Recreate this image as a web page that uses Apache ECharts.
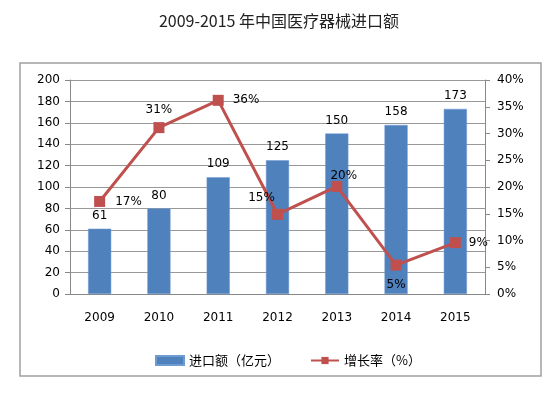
<!DOCTYPE html>
<html><head><meta charset="utf-8">
<script src="https://cdn.jsdelivr.net/npm/echarts@6/dist/echarts.min.js"></script>
<style>html,body{margin:0;padding:0;background:#fff}#c{width:558px;height:395px}</style>
</head><body><div id="c"></div>
<script>
const years = ['2009','2010','2011','2012','2013','2014','2015'];
const importValue = [61, 80, 109, 125, 150, 158, 173];
const growthRate = [17.3, 31.1, 36.2, 14.9, 20.1, 5.4, 9.6];
const growthLabels = ['17%','31%','36%','15%','20%','5%','9%'];
const leftTicks = [0, 20, 40, 60, 80, 100, 120, 140, 160, 180, 200];
const rightTicks = [0, 5, 10, 15, 20, 25, 30, 35, 40];
const labelPos = [
  {position:'right', distance:10},
  {position:'top', distance:6},
  {position:'right', distance:9},
  {position:'top', distance:5, offset:[-16,0]},
  {position:'top', distance:-1, offset:[7,0]},
  {position:'bottom', distance:8},
  {position:'right', distance:8}
];
const chart = echarts.init(document.getElementById('c'), null, {renderer:'canvas'});
const axisFont = {fontFamily:'DejaVu Sans', fontSize:12, color:'#000'};
chart.setOption({
  animation:false,
  backgroundColor:'#fff',
  title:{text:'2009-2015 年中国医疗器械进口额', left:'center', top:8,
    textStyle:{fontFamily:'Noto Sans CJK SC', fontSize:16, fontWeight:'normal', color:'#222'}},
  graphic:[{type:'rect', shape:{x:20, y:63, width:521, height:313},
    style:{fill:'none', stroke:'#a0a0a0', lineWidth:1.5}, z:-1}],
  grid:{left:70, right:73, top:80, bottom:101},
  legend:{left:150, top:349, itemWidth:28, itemHeight:9, itemGap:30,
    textStyle:{fontFamily:'Noto Sans CJK SC', fontSize:13, color:'#000'},
    data:[{name:'进口额（亿元）', icon:'rect'}, {name:'增长率（%）'}]},
  xAxis:{type:'category', data:years, boundaryGap:true,
    axisLine:{lineStyle:{color:'#888'}}, axisTick:{lineStyle:{color:'#888'}, length:5},
    axisLabel:Object.assign({margin:18}, axisFont)},
  yAxis:[
    {type:'value', min:leftTicks[0], max:leftTicks[leftTicks.length-1], interval:20,
     axisLine:{show:true, lineStyle:{color:'#888'}}, axisTick:{show:true, length:5, lineStyle:{color:'#888'}},
     splitLine:{lineStyle:{color:'#999'}}, axisLabel:Object.assign({margin:10}, axisFont)},
    {type:'value', min:rightTicks[0], max:rightTicks[rightTicks.length-1], interval:5,
     axisLine:{show:true, lineStyle:{color:'#888'}}, axisTick:{show:true, length:5, lineStyle:{color:'#888'}},
     splitLine:{show:false}, axisLabel:Object.assign({margin:12, formatter:'{value}%'}, axisFont)}
  ],
  series:[
    {name:'进口额（亿元）', type:'bar', data:importValue, barWidth:'39%',
     itemStyle:{color:'#4F81BD', borderColor:'#6f9bd3', borderWidth:0.5},
     label:{show:true, position:'top', distance:7, fontFamily:'DejaVu Sans', fontSize:12, color:'#000'}},
    {name:'增长率（%）', type:'line', yAxisIndex:1, symbol:'rect', symbolSize:11,
     lineStyle:{color:'#C0504D', width:3}, itemStyle:{color:'#C0504D'},
     data:growthRate.map((v,i)=>({value:v, label:Object.assign({show:true, formatter:growthLabels[i],
       fontFamily:'DejaVu Sans', fontSize:12, color:'#000'}, labelPos[i])}))}
  ]
});
</script></body></html>
